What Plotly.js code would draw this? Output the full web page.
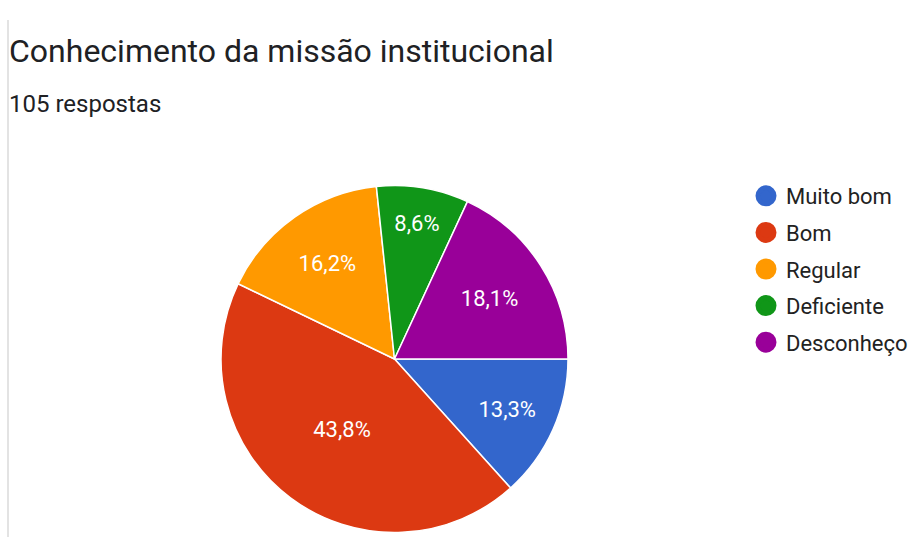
<!DOCTYPE html>
<html><head><meta charset="utf-8">
<script src="https://cdn.plot.ly/plotly-3.0.1.min.js"></script>
<style>html,body{margin:0;padding:0;background:#fff}#chart{width:920px;height:537px}</style>
</head><body><div id="chart"></div>
<script>
const categories = ["Muito bom", "Bom", "Regular", "Deficiente", "Desconheço"];
const counts = [14, 46, 17, 9, 19];
const colors = ["#3366cc", "#dc3912", "#ff9900", "#109618", "#990099"];
const titleText = "Conhecimento da missão institucional";
const subtitleText = "105 respostas";

const traces = [{
  type: "pie",
  labels: categories,
  values: counts,
  sort: false,
  direction: "clockwise",
  rotation: 90,
  marker: {colors: colors, line: {color: "#ffffff", width: 1.5}},
  texttemplate: "%{percent:.1%}",
  textposition: "inside",
  insidetextorientation: "horizontal",
  textfont: {family: "Roboto, Arial, sans-serif", size: 22, color: "#ffffff"},
  showlegend: false,
  hoverinfo: "label+percent",
  domain: {x: [221/920, 568/920], y: [4/537, 352/537]}
}];
categories.forEach((c, i) => {
  traces.push({
    type: "scatter", mode: "markers", x: [null], y: [null], name: c,
    legendgroup: "g" + i,
    marker: {symbol: "circle", size: 16, color: colors[i], line: {color: colors[i], width: 5}},
    showlegend: true, hoverinfo: "skip"
  });
});

const layout = {
  width: 920, height: 537,
  margin: {l: 0, r: 0, t: 0, b: 0},
  paper_bgcolor: "#ffffff", plot_bgcolor: "#ffffff",
  separators: ",.",
  xaxis: {visible: false}, yaxis: {visible: false},
  showlegend: true,
  legend: {
    x: 746/920, y: 1 - 175/537, xanchor: "left", yanchor: "top",
    font: {family: "Roboto, Arial, sans-serif", size: 22, color: "#222222"},
    traceorder: "grouped", tracegroupgap: 5, itemwidth: 30, bgcolor: "rgba(0,0,0,0)"
  },
  annotations: [
    {text: titleText, xref: "paper", yref: "paper", x: 7/920, y: 1 - 51/537,
     xanchor: "left", yanchor: "middle", showarrow: false,
     font: {family: "Roboto, Arial, sans-serif", size: 32, color: "#202124"}},
    {text: subtitleText, xref: "paper", yref: "paper", x: 7/920, y: 1 - 104/537,
     xanchor: "left", yanchor: "middle", showarrow: false,
     font: {family: "Roboto, Arial, sans-serif", size: 24, color: "#202124"}}
  ],
  shapes: [
    {type: "line", xref: "paper", yref: "paper", x0: 8/920, x1: 8/920, y0: 0, y1: 1 - 20/537,
     line: {color: "#e3e3e3", width: 2}}
  ]
};
Plotly.newPlot("chart", traces, layout, {displayModeBar: false, staticPlot: true});
</script></body></html>
